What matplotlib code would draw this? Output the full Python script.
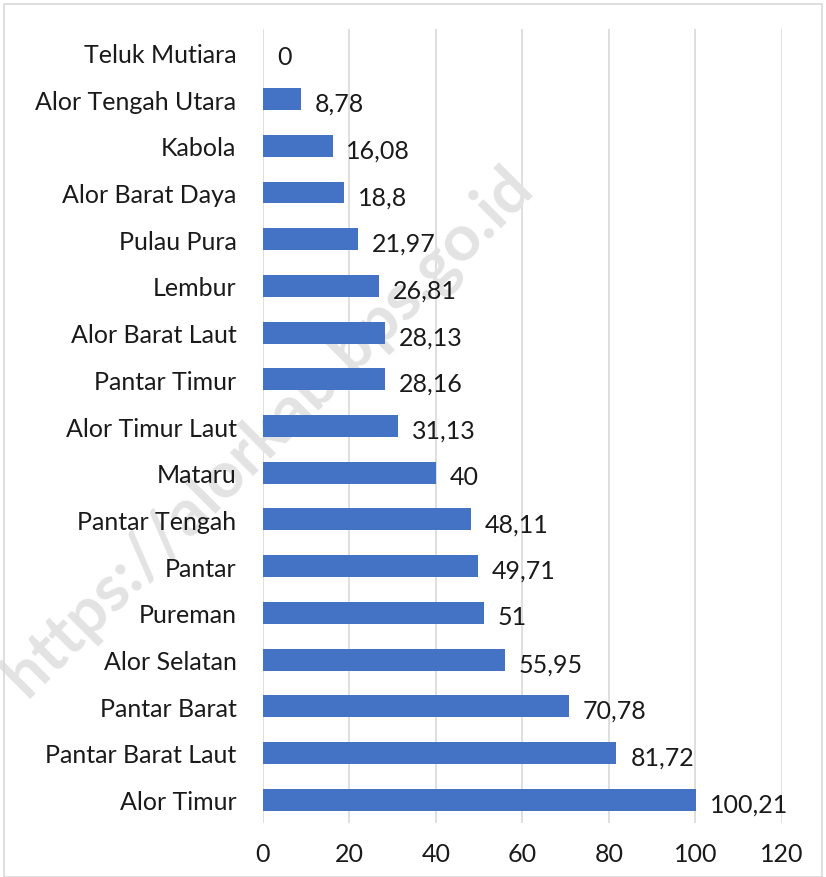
import matplotlib.pyplot as plt
from matplotlib.patches import Rectangle

## data ##
kecamatan = ["Alor Timur", "Pantar Barat Laut", "Pantar Barat", "Alor Selatan", "Pureman",
             "Pantar", "Pantar Tengah", "Mataru", "Alor Timur Laut", "Pantar Timur",
             "Alor Barat Laut", "Lembur", "Pulau Pura", "Alor Barat Daya", "Kabola",
             "Alor Tengah Utara", "Teluk Mutiara"]
nilai = [100.21, 81.72, 70.78, 55.95, 51, 49.71, 48.11, 40, 31.13, 28.16,
         28.13, 26.81, 21.97, 18.8, 16.08, 8.78, 0]
xticks = [0, 20, 40, 60, 80, 100, 120]

plt.rcParams['font.family'] = ['Lato', 'DejaVu Sans']

fig = plt.figure(figsize=(8.26, 8.78), dpi=100)
ax = fig.add_axes([0.3184, 0.0615, 0.6283, 0.9043])

# watermark: above the grid, under the bars and labels
ax.text(0.325, 0.508, "https://alorkab.bps.go.id", rotation=45, fontsize=47,
        fontweight='bold', color='#e3e3e3', ha='center', va='center',
        transform=fig.transFigure, clip_on=False, zorder=1)

# frame round the chart
fig.patches.append(Rectangle((0.005, 0.0), 0.99, 0.994, transform=fig.transFigure,
                             fill=False, edgecolor='#d9d9d9', lw=1.2))

y = list(range(len(kecamatan)))
ax.barh(y, nilai, height=0.47, color='#4472C4', zorder=3)

for yi, v in zip(y, nilai):
    lbl = f"{v:g}".replace('.', ',')
    ax.annotate(lbl, (v, yi), xytext=(10, -3), textcoords='offset points',
                ha='left', va='center', fontsize=18, color='#1a1a1a', zorder=4)

ax.set_xlim(0, 120)
ax.set_ylim(-0.5, len(kecamatan) - 0.5)
ax.set_xticks(xticks)
ax.set_xticklabels([str(t) for t in xticks])
ax.set_yticks(y)
ax.set_yticklabels(kecamatan)
ax.tick_params(axis='x', length=0, pad=14, labelsize=18, labelcolor='#1a1a1a')
ax.tick_params(axis='y', length=0, pad=19, labelsize=18, labelcolor='#1a1a1a')
ax.grid(axis='x', color='#d9d9d9', lw=1.2)
ax.xaxis.set_zorder(0.5)
ax.yaxis.set_zorder(5)
for s in ax.spines.values():
    s.set_visible(False)
ax.patch.set_alpha(0)

fig.savefig("out.png", dpi=100)
